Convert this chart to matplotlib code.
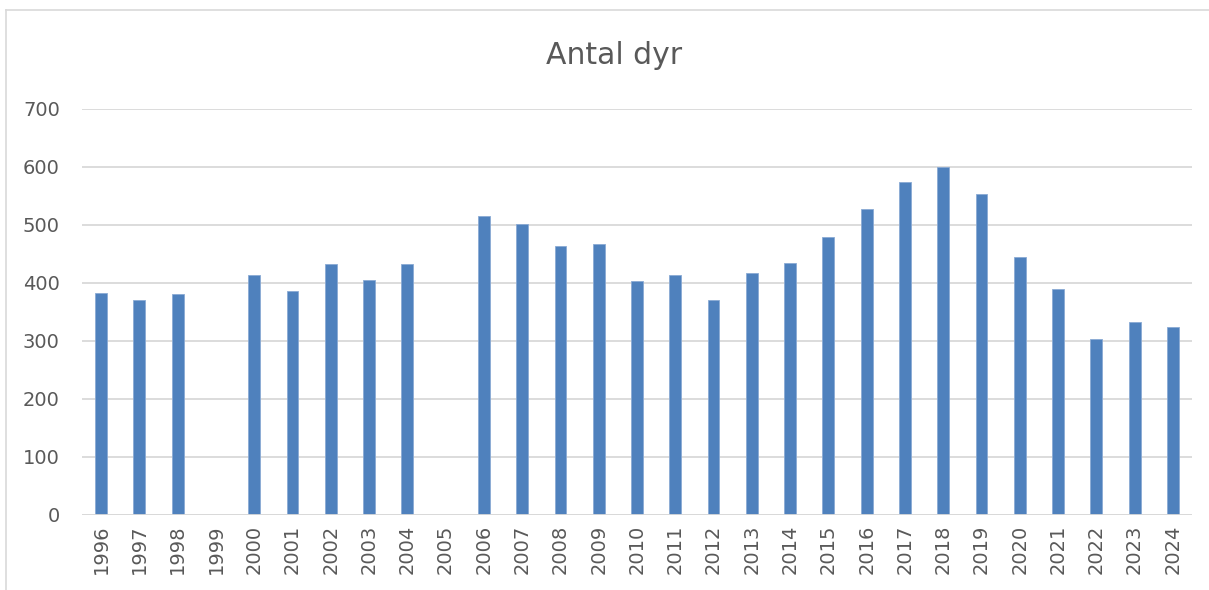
import matplotlib
matplotlib.use("Agg")
import matplotlib.pyplot as plt
import numpy as np
from matplotlib.lines import Line2D

# Data (1999 and 2005 have no value)
years = [str(y) for y in range(1996, 2025)]
antal = [383, 370, 381, np.nan, 414, 386, 433, 406, 432, np.nan,
         515, 502, 463, 467, 404, 414, 371, 417, 435,
         480, 528, 574, 600, 553, 445, 390, 304, 332, 324]
y_ticks = [0, 100, 200, 300, 400, 500, 600, 700]

bar_color = "#4F81BD"
grid_color = "#D9D9D9"
text_color = "#595959"

W, H = 1209, 590
fig = plt.figure(figsize=(W / 100, H / 100), dpi=100)
ax = fig.add_axes([82 / W, (H - 515) / H, (1192 - 82) / W, (515 - 109) / H])

x = np.arange(len(years))
ax.bar(x, antal, width=0.31, color=bar_color, edgecolor="#8AAAD4",
       linewidth=0.6, zorder=3)

ax.set_xlim(-0.5, len(years) - 0.5)
ax.set_ylim(0, 700)
ax.set_yticks(y_ticks)
ax.set_xticks(x)
ax.set_xticklabels(years, rotation=90)
ax.tick_params(axis="both", length=0, labelsize=14, colors=text_color)
ax.tick_params(axis="y", pad=16)
ax.tick_params(axis="x", pad=7)

ax.grid(axis="y", color=grid_color, linewidth=1.3, zorder=0)
for s in ax.spines.values():
    s.set_visible(False)
ax.axhline(0, color=grid_color, linewidth=1.3, zorder=4)

fig.text(614 / W, (H - 55) / H, "Antal dyr", ha="center", va="center",
         fontsize=21.5, color=text_color)

# chart area border (top and left edges visible)
fig.add_artist(Line2D([6 / W, 1], [(H - 10) / H, (H - 10) / H],
                      transform=fig.transFigure, color=grid_color, lw=1.2))
fig.add_artist(Line2D([6 / W, 6 / W], [0, (H - 10) / H],
                      transform=fig.transFigure, color=grid_color, lw=1.2))

fig.savefig("out.png", dpi=100)
